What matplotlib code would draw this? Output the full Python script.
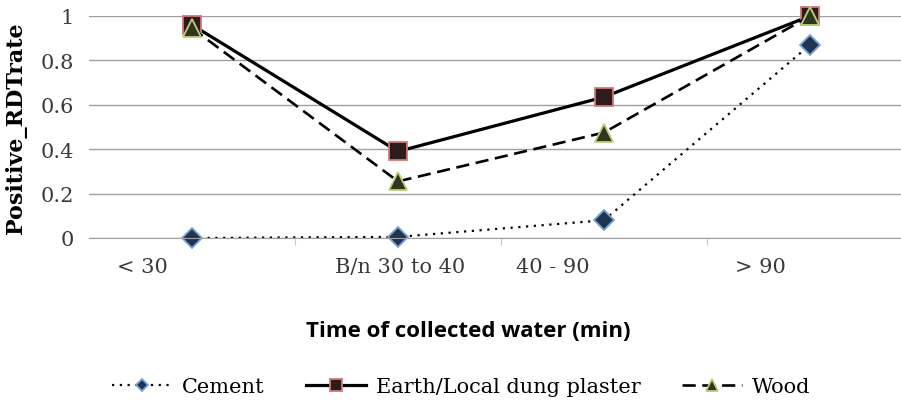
import matplotlib
matplotlib.use("Agg")
from matplotlib import pyplot as plt

# dados do gráfico
categorias = ["< 30", "B/n 30 to 40", "40 - 90", "> 90"]
cement = [0.0, 0.005, 0.08, 0.87]
earth = [0.96, 0.39, 0.635, 1.0]
wood = [0.945, 0.255, 0.475, 1.0]
yticks = [0, 0.2, 0.4, 0.6, 0.8, 1]
ytick_labels = ["0", "0.2", "0.4", "0.6", "0.8", "1"]

serif = ["DejaVu Serif"]

fig = plt.figure(figsize=(9.01, 4.02), dpi=100)
ax = fig.add_axes([89 / 901, 163 / 402, 824 / 901, 222 / 402])

x = list(range(len(categorias)))
ax.plot(x, cement, color="black", linestyle=(0, (1, 2.5)), linewidth=1.6,
        marker="D", markersize=10, markerfacecolor="#1f3550",
        markeredgecolor="#7aa4d6", markeredgewidth=1.3, label="Cement", clip_on=False)
ax.plot(x, earth, color="black", linestyle="-", linewidth=2.3,
        marker="s", markersize=13, markerfacecolor="#2e1c1c",
        markeredgecolor="#d07878", markeredgewidth=1.3,
        label="Earth/Local dung plaster", clip_on=False)
ax.plot(x, wood, color="black", linestyle=(0, (5, 2.5)), linewidth=1.9,
        marker="^", markersize=13, markerfacecolor="#2e3520",
        markeredgecolor="#bccf78", markeredgewidth=1.3, label="Wood", clip_on=False)

ax.set_xlim(-0.5, 3.5)
ax.set_ylim(0, 1)
for s in ["top", "right", "left"]:
    ax.spines[s].set_visible(False)
ax.spines["bottom"].set_color("#a0a0a0")
ax.yaxis.grid(True, color="#a0a0a0", linewidth=1)
ax.set_axisbelow(True)

ax.set_yticks(yticks)
ax.set_yticklabels(ytick_labels, fontfamily=serif, fontsize=15, color="#3a3a3a")
ax.tick_params(axis="y", length=0, pad=11)

# marcas nos limites das categorias, rótulos deslocados como no original
ax.set_xticks([0.5, 1.5, 2.5])
ax.set_xticklabels([])
ax.tick_params(axis="x", which="major", length=5, color="#c8c8c8")
label_pos = [-0.24, 1.01, 1.75, 2.76]
ax.set_xticks(label_pos, minor=True)
ax.set_xticklabels(categorias, minor=True, fontfamily=serif, fontsize=15, color="#3a3a3a")
ax.tick_params(axis="x", which="minor", length=0, pad=14)

ax.set_ylabel("Positive_RDTrate", fontfamily=serif, fontweight="bold", fontsize=16)
ax.yaxis.set_label_coords(-62 / 824, 0.5)

fig.text(468 / 901, 1 - 332 / 402, "Time of collected water (min)", ha="center", va="center",
         fontfamily=["Open Sans", "DejaVu Sans"], fontweight="bold", fontsize=16)

fig.legend(loc="center", bbox_to_anchor=(461 / 901, 1 - 388 / 402), ncol=3, frameon=False,
           prop={"family": serif, "size": 15}, handlelength=2.9, columnspacing=2.0,
           handletextpad=0.45, markerscale=0.65, borderpad=0, borderaxespad=0)

fig.savefig("out.png", dpi=100)
